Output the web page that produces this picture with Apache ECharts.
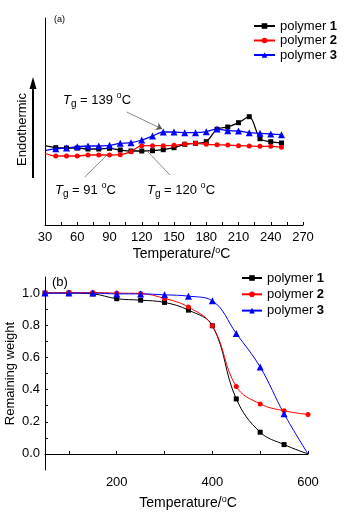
<!DOCTYPE html>
<html>
<head>
<meta charset="utf-8">
<script src="https://cdn.jsdelivr.net/npm/echarts@6/dist/echarts.min.js"></script>
<style>
  html, body {margin: 0; padding: 0; background: #fff;}
  #chart {width: 344px; height: 513px;}
</style>
</head>
<body>
<div id="chart"></div>
<script>
  // (a) DSC, y is heat flow in arbitrary units
  let dscTemps = [30, 40, 50, 60, 70, 80, 90, 100, 110, 120, 130, 140, 150, 160, 170, 180, 190, 200, 210, 220, 230, 240, 250];
  let dsc1 = [79.3, 77.3, 77, 77, 76, 76, 76.7, 75, 74, 74, 74.3, 75.3, 77.3, 80.7, 81.7, 83.3, 95.7, 98, 102.3, 108.3, 86.3, 83.3, 82];
  let dsc2 = [71.5, 69, 69, 69, 70, 70, 70, 70.3, 73.3, 79.3, 79.3, 79.3, 79.7, 81, 81.7, 80.7, 80.3, 80, 79.3, 79, 78.7, 78.7, 77.7];
  let dsc3 = [74.3, 76.3, 77, 78.3, 79, 79, 79.7, 81.7, 82.3, 85, 89, 93, 93, 92.3, 92.3, 93.3, 96, 94.3, 94, 92.3, 91.7, 91, 90.3];
  let dscTicks = [30, 45, 60, 75, 90, 105, 120, 135, 150, 165, 180, 195, 210, 225, 240, 255, 270];
  let dscLabels = [30, 60, 90, 120, 150, 180, 210, 240, 270];

  // (b) TGA
  let tgaTemps = [50, 100, 150, 200, 250, 300, 350, 400, 450, 500, 550, 600];
  let tga1 = [1.0, 1.0, 0.995, 0.965, 0.956, 0.942, 0.894, 0.797, 0.342, 0.135, 0.058, 0.0];
  let tga2 = [1.0, 1.003, 1.003, 1.0, 0.997, 0.967, 0.913, 0.797, 0.419, 0.311, 0.268, 0.245];
  let tga3 = [1.0, 1.0, 1.0, 0.995, 0.995, 0.989, 0.981, 0.952, 0.749, 0.54, 0.249, 0.0];
  let tgaXTicks = [100, 200, 300, 400, 500, 600];
  let tgaXLabels = [200, 400, 600];
  let tgaYTicks = [0, 0.1, 0.2, 0.3, 0.4, 0.5, 0.6, 0.7, 0.8, 0.9, 1.0];
  let tgaYLabels = [0, 0.2, 0.4, 0.6, 0.8, 1.0];

  let names = ['polymer 1', 'polymer 2', 'polymer 3'];
  let colors = ['#000000', '#ff0000', '#0000ff'];
  let symbols = ['rect', 'circle', 'triangle'];

  // Tg pointers [from, to] in data coords of (a)
  let pointers = [
    [[106, 113], [139, 96], 'arrow'],
    [[67, 48], [88.6, 71], 'none'],
    [[146.3, 50], [125.8, 73], 'none']
  ];

  function pairs(xs, ys, hide) {
    let out = [];
    for (let i = 0; i < xs.length; i++) {
      let item = {value: [xs[i], ys[i]]};
      if (hide.indexOf(i) >= 0) {
        item.symbol = 'none';
      }
      out.push(item);
    }
    return out;
  }

  let font = 'Liberation Sans, Arial, sans-serif';
  let tempName = 'Temperature/{sup|o}C';
  let nameRich = {
    sup: {fontSize: 9, verticalAlign: 'top', lineHeight: 16, fontFamily: font, color: '#000'}
  };
  let tgRich = {
    i: {fontStyle: 'italic', fontSize: 13, lineHeight: 18, fontFamily: font, color: '#000'},
    s: {fontSize: 10, verticalAlign: 'bottom', lineHeight: 18, fontFamily: font, color: '#000'},
    o: {fontSize: 9, verticalAlign: 'top', lineHeight: 18, fontFamily: font, color: '#000'},
    n: {fontSize: 13, lineHeight: 18, fontFamily: font, color: '#000'}
  };

  function legendFormatter(name) {
    return name.replace(/(\d)$/, '{b|$1}');
  }

  let series = [];
  let dscData = [dsc1, dsc2, dsc3];
  let tgaData = [tga1, tga2, tga3];
  for (let k = 0; k < 3; k++) {
    let s = {
      name: names[k],
      type: 'line',
      xAxisIndex: 0,
      yAxisIndex: 0,
      smooth: 0.3,
      symbol: symbols[k],
      symbolSize: k == 2 ? 7 : 5,
      itemStyle: {color: colors[k]},
      lineStyle: {color: colors[k], width: 1.3},
      data: pairs(dscTemps, dscData[k], [0]),
      animation: false
    };
    if (k == 0) {
      s.markLine = {
        silent: true,
        symbolSize: 6,
        label: {show: false},
        lineStyle: {color: '#555', width: 0.7, type: 'solid'},
        data: pointers.map(p => [
          {coord: p[0], symbol: 'none'},
          {coord: p[1], symbol: p[2]}
        ])
      };
    }
    series.push(s);
  }
  for (let k = 0; k < 3; k++) {
    series.push({
      name: names[k],
      type: 'line',
      xAxisIndex: 1,
      yAxisIndex: 1,
      smooth: 0.4,
      symbol: symbols[k],
      symbolSize: k == 2 ? 7 : 5,
      itemStyle: {color: colors[k]},
      lineStyle: {color: colors[k], width: 1},
      data: pairs(tgaTemps, tgaData[k], k == 1 ? [] : [11]),
      animation: false
    });
  }

  let axisText = {color: '#000', fontSize: 13, fontFamily: font};

  let myChart = echarts.init(document.getElementById('chart'));
  myChart.setOption({
    animation: false,
    grid: [
      {left: 45, top: 18, width: 258, height: 207, outerBoundsMode: 'none', containLabel: false},
      {left: 45, top: 277, width: 263, height: 193, outerBoundsMode: 'none', containLabel: false}
    ],
    legend: [
      {
        orient: 'vertical', left: 248, top: 14, itemWidth: 21, itemHeight: 7, itemGap: 0.5,
        data: names, formatter: legendFormatter,
        textStyle: {color: '#000', fontSize: 13, fontFamily: font, lineHeight: 14, rich: {b: {fontWeight: 'bold', fontSize: 13, fontFamily: font}}}
      },
      {
        orient: 'vertical', left: 236, top: 266, itemWidth: 20, itemHeight: 7, itemGap: 2.3,
        data: names, formatter: legendFormatter,
        textStyle: {color: '#000', fontSize: 13, fontFamily: font, lineHeight: 14, rich: {b: {fontWeight: 'bold', fontSize: 13, fontFamily: font}}}
      }
    ],
    xAxis: [
      {
        gridIndex: 0, type: 'value', min: 30, max: 270,
        name: tempName, nameLocation: 'middle', nameGap: 21, nameMoveOverlap: false,
        nameTextStyle: {color: '#000', fontSize: 14, fontFamily: font, padding: [0, 0, 0, 15], rich: nameRich},
        axisLine: {lineStyle: {color: '#000', width: 1}},
        axisTick: {inside: true, length: 3, customValues: dscTicks, lineStyle: {color: '#000'}},
        axisLabel: {customValues: dscLabels, margin: 6, ...axisText},
        splitLine: {show: false}
      },
      {
        gridIndex: 1, type: 'value', min: 50, max: 600,
        name: tempName, nameLocation: 'middle', nameGap: 25, nameMoveOverlap: false,
        nameTextStyle: {color: '#000', fontSize: 14, fontFamily: font, padding: [0, 0, 0, 23], rich: nameRich},
        axisLine: {lineStyle: {color: '#000', width: 1}},
        axisTick: {inside: true, length: 3, customValues: tgaXTicks, lineStyle: {color: '#000'}},
        axisLabel: {customValues: tgaXLabels, margin: 6, ...axisText},
        splitLine: {show: false}
      }
    ],
    yAxis: [
      {
        gridIndex: 0, type: 'value', min: 0, max: 207,
        name: 'Endothermic', nameLocation: 'middle', nameGap: 16,
        nameTextStyle: {color: '#000', fontSize: 13, fontFamily: font, padding: [0, 16, 0, 0]},
        axisLine: {show: true, lineStyle: {color: '#000', width: 1}},
        axisTick: {show: false},
        axisLabel: {show: false},
        splitLine: {show: false}
      },
      {
        gridIndex: 1, type: 'value', min: -0.1, max: 1.1,
        name: 'Remaining weight', nameLocation: 'middle', nameGap: 28, nameMoveOverlap: false,
        nameTextStyle: {color: '#000', fontSize: 13, fontFamily: font},
        axisLine: {show: true, lineStyle: {color: '#000', width: 1}},
        axisTick: {inside: true, length: 3, customValues: tgaYTicks, lineStyle: {color: '#000'}},
        axisLabel: {customValues: tgaYLabels, margin: 5, formatter: v => v.toFixed(1), ...axisText},
        splitLine: {show: false}
      }
    ],
    graphic: [
      {type: 'text', left: 54, top: 15, style: {text: '(a)', fontSize: 9, fontFamily: font, fill: '#000'}},
      {type: 'text', left: 52, top: 276, style: {text: '(b)', fontSize: 13, fontFamily: font, fill: '#000'}},
      // Endothermic arrow
      {type: 'line', shape: {x1: 33, y1: 178, x2: 33, y2: 86}, style: {stroke: '#000', lineWidth: 2}},
      {type: 'polygon', shape: {points: [[33, 77], [29.5, 89], [36.5, 89]]}, style: {fill: '#000'}},
      {type: 'text', left: 63, top: 91, style: {text: '{i|T}{s|g}{n| = 139 }{o|o}{n|C}', rich: tgRich}},
      {type: 'text', left: 55, top: 181, style: {text: '{i|T}{s|g}{n| = 91 }{o|o}{n|C}', rich: tgRich}},
      {type: 'text', left: 147, top: 181, style: {text: '{i|T}{s|g}{n| = 120 }{o|o}{n|C}', rich: tgRich}}
    ],
    series: series
  });
</script>
</body>
</html>
